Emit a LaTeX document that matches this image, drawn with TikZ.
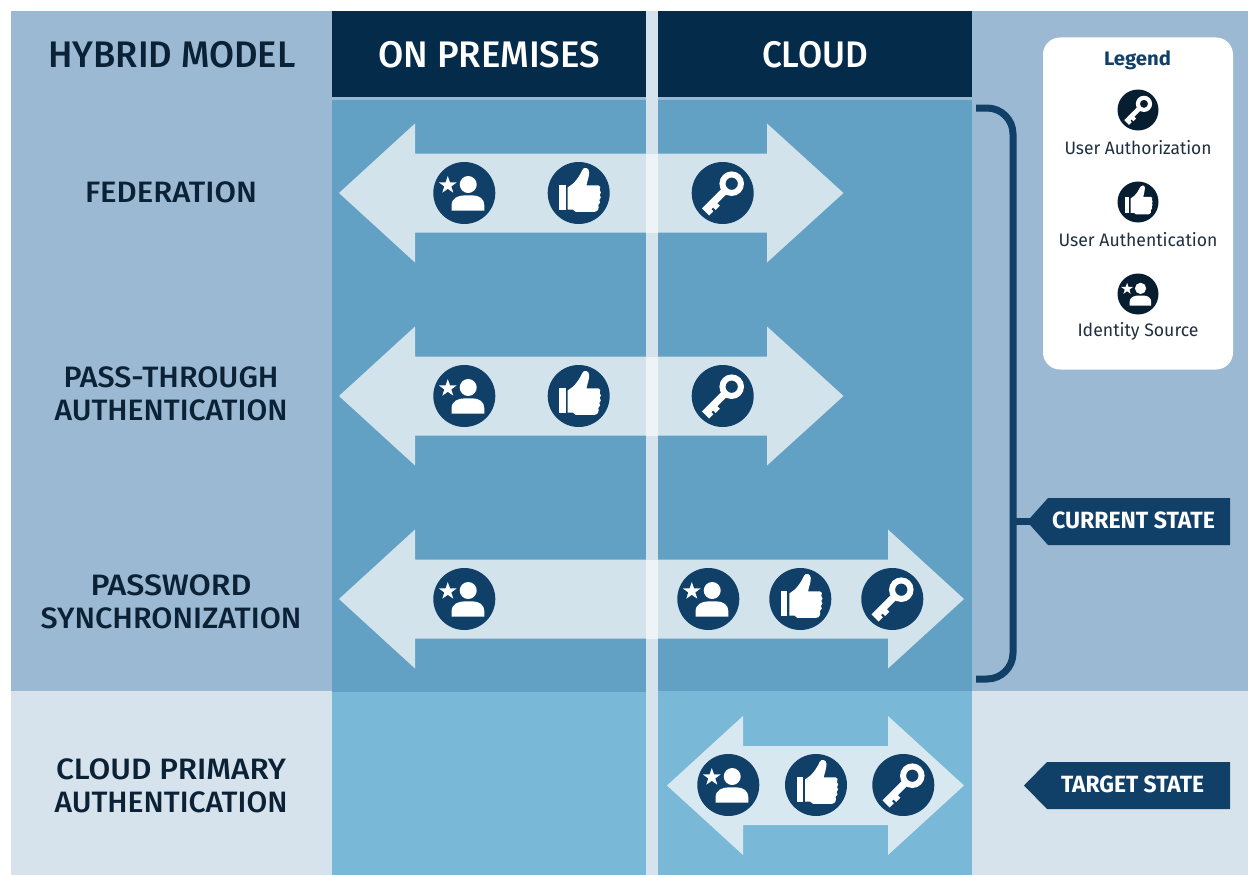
\documentclass[tikz,border=0pt]{standalone}
\usepackage{fontspec}
\usepackage{graphicx}
\setmainfont{Fira Sans}
\newfontfamily\medf{Fira Sans Medium}
\definecolor{band}{HTML}{9BB9D2}
\definecolor{lowband}{HTML}{D7E3EC}
\definecolor{col}{HTML}{62A0C4}
\definecolor{lowcol}{HTML}{79B8D6}
\definecolor{head}{HTML}{042B4A}
\definecolor{divi}{HTML}{D5E3EC}
\definecolor{arr}{HTML}{D3E3EC}
\definecolor{arrlow}{HTML}{D8E8F0}
\definecolor{arrhi}{HTML}{EEF3F7}
\definecolor{navy}{HTML}{103F68}
\definecolor{ink}{HTML}{0B2236}
\definecolor{legink}{HTML}{071D30}
\definecolor{legtxt}{HTML}{1F2F3F}
\newsavebox{\fitbox}
\newcommand{\fitw}[2]{\sbox{\fitbox}{#2}\pgfmathsetmacro{\fitr}{#1/\the\wd\fitbox}\scalebox{\fitr}[1]{\usebox{\fitbox}}}
\tikzset{
  label/.style={inner sep=0pt,text=ink,align=center,font=\medf\fontsize{29.5}{33}\selectfont},
  headtxt/.style={inner sep=0pt,font=\medf\fontsize{37}{40}\selectfont},
  legtext/.style={inner sep=0pt,text=legtxt,font=\fontsize{18}{20}\selectfont},
  tagtxt/.style={inner sep=0pt,text=white,font=\fontsize{23.5}{26}\selectfont\bfseries},
}
% icon glyphs in a frame where the circle has radius 31
\newcommand{\glyphuser}{%
  \fill[white] (3.9,-8.5) circle (8.5);
  \fill[white] (-12.7,17.6) -- (-12.7,12) .. controls (-12.7,5) and (-6,2.3) .. (1,2.3) -- (8,2.3) .. controls (15,2.3) and (20,6) .. (20,12) -- (20,17.6) -- cycle;
  \fill[white] (-16.5,-17) -- (-14.3,-10.6) -- (-7.6,-10.6) -- (-13,-6.6) -- (-11,-0.3) -- (-16.5,-4.2) -- (-22,-0.3) -- (-20,-6.6) -- (-25.4,-10.6) -- (-18.7,-10.6) -- cycle;
}
\newcommand{\glyphthumb}{%
  \fill[white] (-19.3,-8) rectangle (-13,16.7);
  \fill[white] (-11,-5.5) -- (-5.5,-9.5) .. controls (-2,-13) and (1.5,-18) .. (3.6,-23) .. controls (5,-26.5) and (10.5,-25.5) .. (10.5,-21)
    .. controls (10.5,-16) and (8.5,-12) .. (7.8,-7.7) -- (19.5,-7.7) .. controls (21.7,-7.7) and (22.3,-5) .. (21,-3) .. controls (22.6,-2) and (22.6,1) .. (21,2) .. controls (22.6,3) and (22.6,6) .. (20.6,7) .. controls (22,8) and (21.8,11) .. (19.6,12) .. controls (20.6,14.5) and (19.5,18.8) .. (16,18.8)
    -- (-3,18.8) -- (-6,16.5) -- (-11,16.5) -- cycle;
}
\newcommand{\glyphkey}{%
  \fill[white,even odd rule] (9,-9.3) circle (12.3) (9,-9.3) circle (6.2);
  \fill[white] (0.09,-5.49) -- (-20.77,15.37) -- (-13.62,22.52) -- (-9.38,18.28) -- (-11.43,16.23) -- (-9.66,14.46) -- (-7.12,17) -- (-2.88,12.76) -- (-5.42,10.22) -- (5.19,-0.39) -- cycle;
}
\newcommand{\icon}[5]{% x y radius colour glyph
  \begin{scope}[shift={(#1,#2)},scale=#3/31]
    \fill[#4] (0,0) circle (31);
    #5
  \end{scope}}
\newcommand{\dblarrow}[6]{% tipL backL backR tipR cy colour
  \fill[#6] (#1,#5) -- (#2,#5-69.5) -- (#2,#5-39.5) -- (#3,#5-39.5) -- (#3,#5-69.5) -- (#4,#5) -- (#3,#5+69.5) -- (#3,#5+39.5) -- (#2,#5+39.5) -- (#2,#5+69.5) -- cycle;}
\begin{document}
\begin{tikzpicture}[x=1pt,y=-1pt]
\useasboundingbox (0,0) rectangle (1248,875);
\fill[white] (0,0) rectangle (1248,875);
% bands
\fill[band] (11,11) rectangle (1248,691);
\fill[lowband] (11,691) rectangle (1248,875);
% columns
\fill[col] (332,100) rectangle (972,692);
\fill[lowcol] (332,692) rectangle (646,875);
\fill[lowcol] (658,690.5) rectangle (972,875);
\fill[head] (332,11) rectangle (646,97);
\fill[head] (658,11) rectangle (972,97);
\fill[divi] (646,11) rectangle (658,875);
% arrows
\dblarrow{339}{415}{767}{843.5}{193}{arr}
\dblarrow{339}{415}{767}{843.5}{396}{arr}
\dblarrow{339}{415}{888}{964}{599}{arr}
\dblarrow{667}{743}{888}{964}{785.5}{arrlow}
\fill[arrhi] (646,153.5) rectangle (658,232.5);
\fill[arrhi] (646,356.5) rectangle (658,435.5);
\fill[arrhi] (646,559.5) rectangle (658,638.5);
% icons
\icon{464.3}{193}{31}{navy}{\glyphuser}
\icon{578.7}{193}{31}{navy}{\glyphthumb}
\icon{722.7}{193}{31}{navy}{\glyphkey}
\icon{464.3}{396}{31}{navy}{\glyphuser}
\icon{578.7}{396}{31}{navy}{\glyphthumb}
\icon{722.7}{396}{31}{navy}{\glyphkey}
\icon{464.3}{599}{31}{navy}{\glyphuser}
\icon{708.3}{599}{31}{navy}{\glyphuser}
\icon{800.3}{599}{31}{navy}{\glyphthumb}
\icon{892.3}{599}{31}{navy}{\glyphkey}
\icon{728.3}{785}{31}{navy}{\glyphuser}
\icon{816}{785}{31}{navy}{\glyphthumb}
\icon{903.3}{785}{31}{navy}{\glyphkey}
% titles
\node[headtxt,text=ink] (thybrid) at (172,54.5) {\fitw{247}{HYBRID MODEL}};
\node[headtxt,text=white] (tonprem) at (489,54.5) {\fitw{222}{ON PREMISES}};
\node[headtxt,text=white] (tcloud) at (815,54.5) {\fitw{106}{CLOUD}};
% row labels
\node[label] (lfed) at (171,192.5) {\fitw{172}{FEDERATION}};
\node[label] (lpass) at (171,377.5) {\fitw{215}{PASS-THROUGH}};
\node[label] (lauth) at (171,410.5) {\fitw{233}{AUTHENTICATION}};
\node[label] (lpwd) at (171,585.5) {\fitw{161}{PASSWORD}};
\node[label] (lsync) at (171,618.5) {\fitw{261}{SYNCHRONIZATION}};
\node[label] (lcpa) at (171,769.5) {\fitw{230}{CLOUD PRIMARY}};
\node[label] (lauthb) at (171,802.5) {\fitw{233}{AUTHENTICATION}};
% legend
\fill[white,rounded corners=17pt] (1043,37.5) rectangle (1233,369.5);
\node[inner sep=0pt,text=navy,font=\fontsize{19.5}{22}\selectfont\bfseries] (tlegend) at (1137.5,60) {\fitw{67}{Legend}};
\icon{1138}{110}{20.5}{legink}{\glyphkey}
\node[legtext] (lua) at (1138,148) {\fitw{147}{User Authorization}};
\icon{1138}{202}{20.5}{legink}{\glyphthumb}
\node[legtext] (lun) at (1138,240) {\fitw{159}{User Authentication}};
\icon{1138}{294}{20.5}{legink}{\glyphuser}
\node[legtext] (lis) at (1138,331.5) {\fitw{121}{Identity Source}};
% bracket and tags
\draw[navy,line width=7pt,rounded corners=26pt] (976,108) -- (1013,108) -- (1013,679) -- (976,679);
\fill[navy] (1013,517.5) rectangle (1032,524.5);
\fill[navy] (1027,521.5) -- (1048,498) -- (1230,498) -- (1230,545) -- (1048,545) -- cycle;
\node[tagtxt] (tcur) at (1133.5,520.5) {\fitw{163}{CURRENT STATE}};
\fill[navy] (1024,785.5) -- (1047,762) -- (1230,762) -- (1230,809) -- (1047,809) -- cycle;
\node[tagtxt] (ttar) at (1132.5,784.5) {\fitw{143}{TARGET STATE}};
\end{tikzpicture}
\end{document}
